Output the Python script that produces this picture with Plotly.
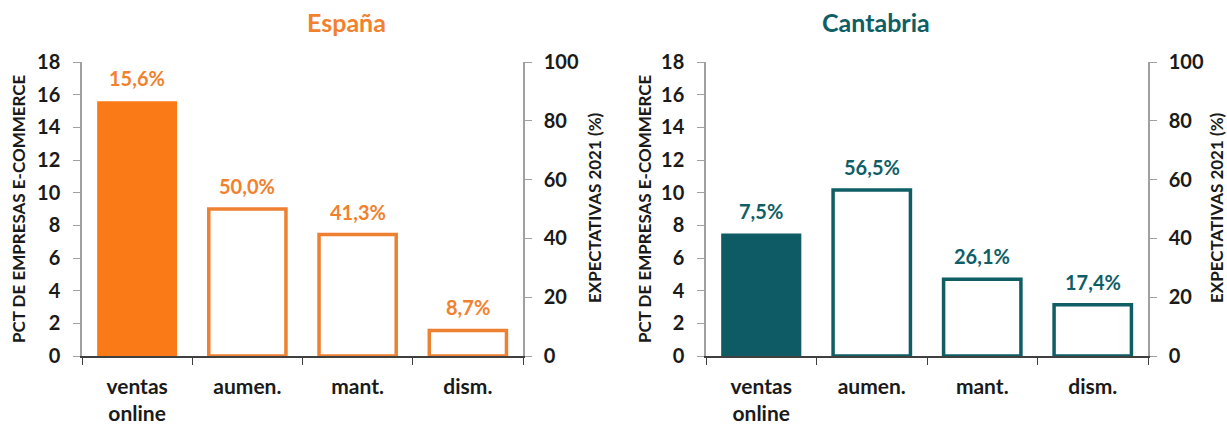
import plotly.graph_objects as go

categories = ['ventas<br>online', 'aumen.', 'mant.', 'dism.']
regions = ['España', 'Cantabria']
ventas_online = [15.6, 7.5]
expectativas = [[50.0, 41.3, 8.7], [56.5, 26.1, 17.4]]

_ORANGE = '#F97A17'
_ORANGE_LINE = '#EE8032'
_ORANGE_TXT = '#F2812E'
_TEAL = '#0E5B65'
_TEAL_LINE = '#0F5E66'
_TEXT = '#1A1A1A'
_FONT = 'Lato'

W, H = 1227, 425


def px_x(x):
    return x / W


def px_y(y):
    return 1 - y / H


colors = [(_ORANGE, _ORANGE_LINE, _ORANGE_TXT), (_TEAL, _TEAL_LINE, _TEAL_LINE)]
x_domains = [[px_x(82), px_x(523)], [px_x(706), px_x(1148)]]
y_domain = [px_y(356), px_y(62)]
title_x = [px_x(305), px_x(932)]
left_title_x = [px_x(19), px_x(645)]
right_title_x = [px_x(594), px_x(1216)]


def fmt(v):
    return f'{v:.1f}'.replace('.', ',') + '%'


fig = go.Figure()
annotations = []
layout = dict(
    width=W, height=H,
    paper_bgcolor='white', plot_bgcolor='white',
    margin=dict(l=0, r=0, t=0, b=0, autoexpand=False),
    showlegend=False,
    barmode='overlay',
    font=dict(family=_FONT, color=_TEXT),
)

for i, region in enumerate(regions):
    fill, line, txt = colors[i]
    xa = 'x' if i == 0 else 'x2'
    ya_left = 'y' if i == 0 else 'y3'
    ya_right = 'y2' if i == 0 else 'y4'

    fig.add_trace(go.Bar(
        x=categories[:1], y=[ventas_online[i]], xaxis=xa, yaxis=ya_left,
        width=0.725, marker=dict(color=fill, line=dict(width=0)),
    ))
    fig.add_trace(go.Bar(
        x=categories[1:], y=expectativas[i], xaxis=xa, yaxis=ya_right,
        width=0.7, marker=dict(color='white', line=dict(color=line, width=3.5)),
    ))

    # value labels above the bars
    label_font = dict(family=_FONT, size=20, color=txt, weight='bold')
    annotations.append(dict(
        x=categories[0], y=ventas_online[i], xref=xa, yref=ya_left,
        text=fmt(ventas_online[i]), showarrow=False, yanchor='middle', yshift=23,
        font=label_font,
    ))
    for c, v in zip(categories[1:], expectativas[i]):
        annotations.append(dict(
            x=c, y=v, xref=xa, yref=ya_right,
            text=fmt(v), showarrow=False, yanchor='middle', yshift=23,
            font=label_font,
        ))

    xkey = 'xaxis' if i == 0 else 'xaxis2'
    lkey = 'yaxis' if i == 0 else 'yaxis3'
    rkey = 'yaxis2' if i == 0 else 'yaxis4'
    layout[xkey] = dict(
        domain=x_domains[i], anchor=ya_left, type='category',
        categoryorder='array', categoryarray=categories,
        showline=True, linecolor='#404040', linewidth=1.5,
        ticks='outside', ticklen=7, tickcolor='#404040', tickson='boundaries',
        ticklabelstandoff=11,
        tickfont=dict(family=_FONT, size=21, color=_TEXT, weight='bold'),
        showgrid=False, zeroline=False, automargin=False,
    )
    layout[lkey] = dict(
        domain=y_domain, anchor=xa, range=[0, 18], dtick=2,
        showline=True, linecolor='#A0A0A0', linewidth=1.5,
        ticks='outside', ticklen=7, tickcolor='#A0A0A0', ticklabelstandoff=9,
        tickfont=dict(family=_FONT, size=20, color=_TEXT, weight='bold'),
        showgrid=False, zeroline=False, automargin=False,
    )
    layout[rkey] = dict(
        overlaying=ya_left, anchor=xa, side='right', range=[0, 100], dtick=20,
        showline=True, linecolor='#A0A0A0', linewidth=1.5,
        ticks='outside', ticklen=7, tickcolor='#A0A0A0', ticklabelstandoff=8,
        tickfont=dict(family=_FONT, size=20, color=_TEXT, weight='bold'),
        showgrid=False, zeroline=False, automargin=False,
    )
    annotations.append(dict(
        text=region, xref='paper', yref='paper',
        x=title_x[i], y=px_y(22), yanchor='middle', showarrow=False,
        font=dict(family=_FONT, size=25, color=txt, weight='bold'),
    ))
    annotations.append(dict(
        text='PCT DE EMPRESAS E-COMMERCE', xref='paper', yref='paper', textangle=-90,
        x=left_title_x[i], y=px_y(209), xanchor='center', yanchor='middle',
        showarrow=False, font=dict(family=_FONT, size=17, color=_TEXT, weight='bold'),
    ))
    annotations.append(dict(
        text='EXPECTATIVAS 2021 (%)', xref='paper', yref='paper', textangle=-90,
        x=right_title_x[i], y=px_y(208), xanchor='center', yanchor='middle',
        showarrow=False, font=dict(family=_FONT, size=17, color=_TEXT, weight='bold'),
    ))

layout['annotations'] = annotations
fig.update_layout(**layout)
# drop the default page margin so the figure sits at the window's corner
fig.write_html('out.html', config={'displayModeBar': False},
               post_script="document.body.style.margin='0';")
